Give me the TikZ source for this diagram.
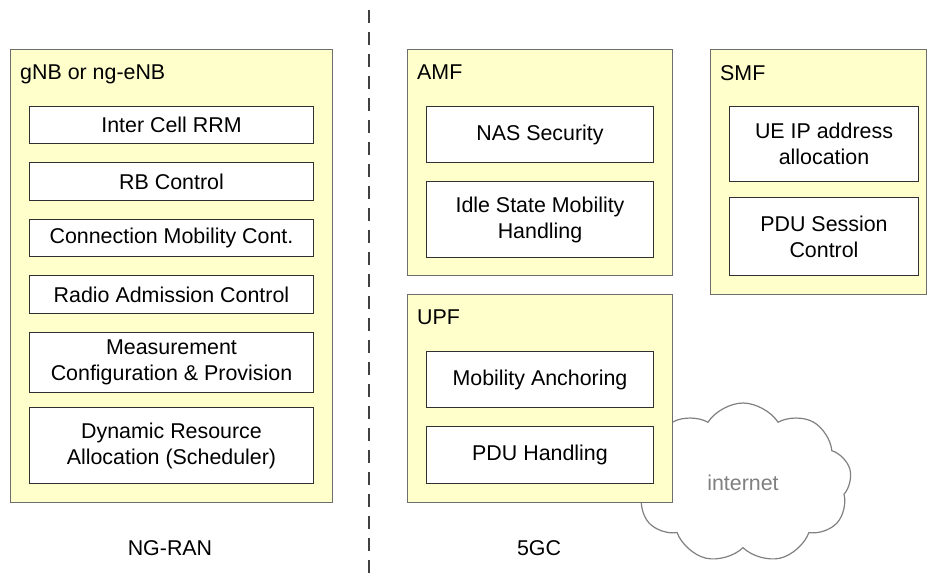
\documentclass[tikz,border=0pt]{standalone}
\usepackage{fontspec}
\setmainfont{Liberation Sans}
\usetikzlibrary{shapes.symbols}
\definecolor{boxfill}{HTML}{FFFFCC}
\definecolor{boxline}{HTML}{6E6E6E}
\definecolor{innerline}{HTML}{303030}
\definecolor{cloudline}{HTML}{808080}
\begin{document}
\begin{tikzpicture}[x=1pt,y=-1pt,
  outerbox/.style={draw=boxline,fill=boxfill,line width=1pt,anchor=north west,inner sep=0pt},
  innerbox/.style={draw=innerline,fill=white,line width=1pt,anchor=north west,inner sep=0pt,align=center,font=\fontsize{21.4}{26}\selectfont},
  title/.style={anchor=base west,inner sep=0pt,font=\fontsize{21.4}{26}\selectfont},
  caption/.style={inner sep=0pt,font=\fontsize{21.4}{26}\selectfont},
  divider/.style={draw=black!75,line width=1.5pt,dash pattern=on 13pt off 9pt}]
\useasboundingbox (0,0) rectangle (927,576);
% cloud
\node[cloud,cloud puffs=9,cloud puff arc=115,cloud ignores aspect,draw=cloudline,fill=white,line width=1.2pt,minimum width=217pt,minimum height=160pt,inner sep=0pt] (cloud) at (743,483) {};
\node[text=cloudline,font=\fontsize{21.4}{26}\selectfont,inner sep=0pt] (internet) at (743,483) {internet};
% divider
\coordinate (dtop) at (369,10);
\coordinate (dbot) at (369,576);
\draw[divider] (dtop) -- (dbot);
% gNB
\node[outerbox,minimum width=322pt,minimum height=453pt] (gnb) at (10,49) {};
\node[title] (gnbt) at (20,79) {gNB or ng-eNB};
\node[innerbox,minimum width=284pt,minimum height=37pt] (rrm) at (29,106) {Inter Cell RRM};
\node[innerbox,minimum width=284pt,minimum height=38pt] (rb) at (29,162) {RB Control};
\node[innerbox,minimum width=284pt,minimum height=37pt] (cmc) at (29,219) {Connection Mobility Cont.};
\node[innerbox,minimum width=284pt,minimum height=38pt] (rac) at (29,275) {Radio Admission Control};
\node[innerbox,minimum width=284pt,minimum height=60pt] (meas) at (29,332) {Measurement\\Configuration \& Provision};
\node[innerbox,minimum width=284pt,minimum height=76pt] (dra) at (29,407) {Dynamic Resource\\Allocation (Scheduler)};
% AMF
\node[outerbox,minimum width=265pt,minimum height=226pt] (amf) at (407,49) {};
\node[title] (amft) at (417,79) {AMF};
\node[innerbox,minimum width=227pt,minimum height=56pt] (nas) at (426,106) {NAS Security};
\node[innerbox,minimum width=227pt,minimum height=76pt] (idle) at (426,181) {Idle State Mobility\\Handling};
% UPF
\node[outerbox,minimum width=265pt,minimum height=208pt] (upf) at (407,294) {};
\node[title] (upft) at (417,324) {UPF};
\node[innerbox,minimum width=227pt,minimum height=56pt] (anch) at (426,351) {Mobility Anchoring};
\node[innerbox,minimum width=227pt,minimum height=57pt] (pduh) at (426,426) {PDU Handling};
% SMF
\node[outerbox,minimum width=215.5pt,minimum height=245pt] (smf) at (710,49) {};
\node[title] (smft) at (720,80) {SMF};
\node[innerbox,minimum width=189pt,minimum height=75pt] (ueip) at (729,106) {UE IP address\\allocation};
\node[innerbox,minimum width=189pt,minimum height=78pt] (pdus) at (729,197) {PDU Session\\Control};
% captions
\node[caption] (ngran) at (170,548) {NG-RAN};
\node[caption] (fivegc) at (539,548) {5GC};
\end{tikzpicture}
\end{document}
